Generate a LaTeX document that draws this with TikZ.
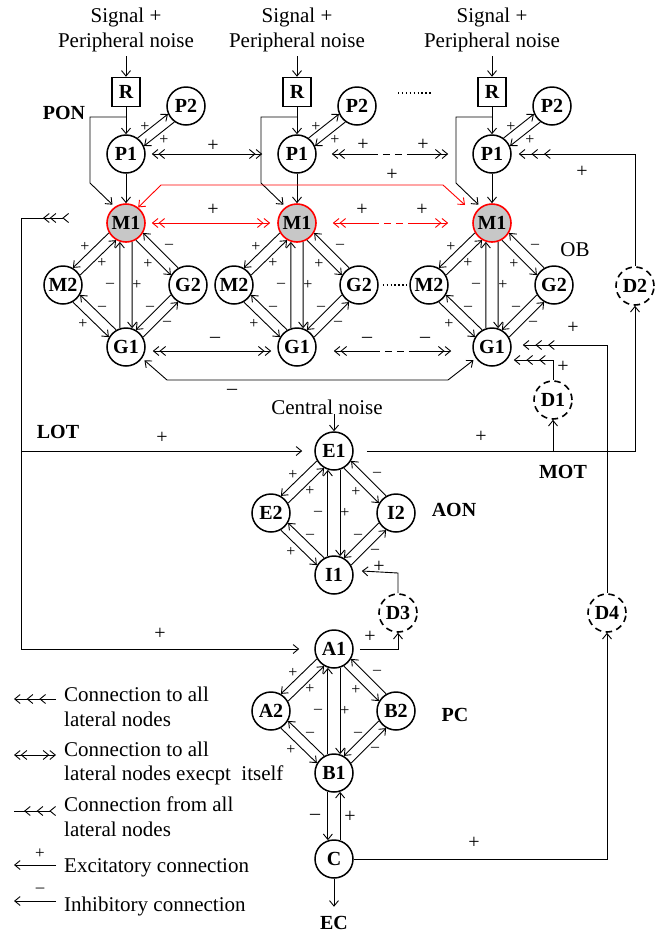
\documentclass[tikz,border=0pt]{standalone}
\usepackage{fontspec}
\setmainfont{Liberation Serif}
\usetikzlibrary{arrows.meta}
\tikzset{
 sb/.tip={Straight Barb[length=5.5pt,width=9pt]},
 con/.style={line width=0.9pt,-{sb[]}},
 conb/.style={line width=0.9pt,{sb[]}-{sb[]}},
 con2/.style={line width=0.9pt,{sb[]sb[]}-{sb[]sb[]}},
 con3/.style={line width=0.9pt,-{sb[sep=6pt]sb[sep=6pt]sb[]}},
 rev3/.style={line width=0.9pt,-{sb[reversed,sep=6pt]sb[reversed,sep=6pt]sb[reversed]}},
 revfrom/.style={line width=0.9pt,{sb[reversed,sep=6pt]sb[reversed,sep=6pt]sb[reversed]}-{sb[]}},
 dashmid/.style={dash pattern=on 45pt off 5pt on 7pt off 5pt on 7pt off 5pt on 200pt},
 dotl/.style={line width=1.3pt,dash pattern=on 1.3pt off 2.6pt},
 nd/.style={circle,draw,line width=1.5pt,minimum size=38pt,inner sep=0pt,font=\fontsize{20}{24}\selectfont\bfseries},
 m1/.style={fill=black!22,draw=red,line width=1.6pt},
 dnode/.style={nd,line width=1.6pt,dash pattern=on 6.5pt off 4.5pt},
 rb/.style={rectangle,draw,line width=1.5pt,minimum width=28pt,minimum height=29pt,inner sep=0pt,font=\fontsize{20}{24}\selectfont\bfseries},
 txt/.style={inner sep=0pt,align=center,font=\fontsize{21}{25}\selectfont},
 lt/.style={inner sep=0pt,font=\fontsize{21}{25}\selectfont},
 bl/.style={inner sep=0pt,font=\fontsize{20}{24}\selectfont\bfseries},
 sl/.style={inner sep=0pt,font=\fontsize{16}{16}\selectfont},
 lp/.style={inner sep=0pt,font=\fontsize{20}{20}\selectfont},
 ll/.style={inner sep=0pt,font=\fontsize{17}{17}\selectfont},
}
\newcommand{\dnet}[8]{%
 \node[nd,#8] (#1t) at (#2,#3) {#4};
 \node[nd] (#1l) at ({#2-63},{#3+62}) {#5};
 \node[nd] (#1r) at ({#2+62},{#3+62}) {#6};
 \node[nd] (#1b) at (#2,{#3+124}) {#7};
 \draw[con] (#1t.210) -- (#1l.60);
 \draw[con] (#1l.30) -- (#1t.240);
 \draw[con] (#1r.120) -- (#1t.330);
 \draw[con] (#1t.300) -- (#1r.150);
 \draw[con] (#1b.108) -- (#1t.252);
 \draw[con] (#1t.288) -- (#1b.72);
 \draw[con] (#1l.300) -- (#1b.150);
 \draw[con] (#1b.120) -- (#1l.330);
 \draw[con] (#1b.30) -- (#1r.240);
 \draw[con] (#1r.210) -- (#1b.60);
 \node[sl] at ({#2-41},{#3+24}) {+};
 \node[sl] at ({#2-24},{#3+40}) {+};
 \node[sl] at ({#2+43},{#3+23}) {–};
 \node[sl] at ({#2+22},{#3+41}) {+};
 \node[sl] at ({#2-16},{#3+62}) {–};
 \node[sl] at ({#2+11},{#3+62}) {+};
 \node[sl] at ({#2-43},{#3+101}) {+};
 \node[sl] at ({#2-24},{#3+85}) {–};
 \node[sl] at ({#2+41},{#3+100}) {–};
 \node[sl] at ({#2+24},{#3+85}) {–};
}
\newcommand{\pcol}[2]{%
 \node[txt,anchor=north] (S#1) at (#2,8) {Signal +\\Peripheral noise};
 \node[rb] (R#1) at (#2,92) {R};
 \node[nd] (P#1) at (#2,154) {P1};
 \node[nd] (Q#1) at ({#2+60},106) {P2};
 \draw[con] ([yshift=-4pt]S#1.south) -- (R#1);
 \draw[con] (R#1) -- (P#1);
 \draw[con] (P#1.54) -- (Q#1.204);
 \draw[con] (Q#1.234) -- (P#1.24);
 \node[sl] at ({#2+19},127) {+};
 \node[sl] at ({#2+38},140) {+};
 \dnet{M#1}{#2}{223}{M1}{M2}{G2}{G1}{m1}
 \draw[con,shorten >=3pt] (#2,117) -- ({#2-36},117) -- ({#2-36},183) -- (M#1t.125);
 \draw[con] (P#1) -- (M#1t);
}
\begin{document}
\begin{tikzpicture}[x=1pt,y=-1pt]
\useasboundingbox (0,0) rectangle (665,935);
\pcol{a}{126}
\pcol{b}{297}
\pcol{c}{492}
% lateral P1
\draw[con2,shorten <=6pt,shorten >=15pt] (Pa) -- (Pb);
\draw[con2,dashmid,shorten <=15pt,shorten >=24pt] (Pb) -- (Pc);
\node[lp] at (213,146) {+};
\node[lp] at (363,145) {+};
\node[lp] at (423,145) {+};
% lateral M1 (red)
\draw[con2,red,shorten <=6pt,shorten >=7pt] (Mat) -- (Mbt);
\draw[con2,red,dashmid,shorten <=16pt,shorten >=24pt] (Mbt) -- (Mct);
\node[lp] at (213,210) {+};
\node[lp] at (362,210) {+};
\node[lp] at (422,210) {+};
\coordinate (rE) at (465,205);
\draw[conb,red] (Mat.52) -- (161,185) -- (443,185) -- (rE);
\node[lp] at (392,175) {+};
% lateral G1
\draw[con2,shorten <=7pt,shorten >=6pt] ([yshift=-4pt]Mab.east) -- ([yshift=-4pt]Mbb.west);
\draw[con2,dashmid,shorten <=17pt,shorten >=21pt] ([yshift=-4pt]Mbb.east) -- ([yshift=-4pt]Mcb.west);
\node[lp] at (215,340) {–};
\node[lp] at (367,340) {–};
\node[lp] at (425,340) {–};
\draw[conb,shorten <=3pt,shorten >=3pt] (Mcb.215) -- (448,380) -- (167,380) -- (Mab.-35);
\node[lp] at (232,392) {–};
% dotted gaps
\draw[dotl] ([xshift=4pt]Mbr.east) -- ([xshift=-3pt]Mcl.west);
\draw[dotl] (398,93) -- (432,93);
% labels top
\node[bl] at (64,113) {PON};
\node[txt] at (575,250) {OB};
% D nodes
\node[dnode] (D2) at (635,286) {D2};
\node[dnode] (D1) at (553,400) {D1};
\node[dnode] (D3) at (398,613) {D3};
\node[dnode] (D4) at (607,613) {D4};
\draw[con3] (D2.north) -- (635,154) -- ([xshift=7pt]Pc.east);
\node[lp] at (582,172) {+};
\draw[con3] (D4.north) -- (607,345) -- ([xshift=11pt,yshift=2pt]Mcb.east);
\node[lp] at (573,328) {+};
\draw[con3] (D1.north) -- (553,360) -- ([xshift=2pt,yshift=-13pt]Mcb.east);
\node[lp] at (563,367) {+};
% AON
\node[txt] (CN) at (327,407) {Central noise};
\dnet{E}{334}{451}{E1}{E2}{I2}{I1}{}
\draw[con] ([yshift=17pt]Et.north) -- (Et.north);
\node[bl] at (454,510) {AON};
\node[bl] at (58,432) {LOT};
\node[bl] at (563,472) {MOT};
\draw[con] ([xshift=13pt]Et.east) -- (635,451) -- (D2.south);
\draw[con] (553,451) -- (D1.south);
\node[lp] at (481,437) {+};
% PC
\dnet{A}{334}{649}{A1}{A2}{B2}{B1}{}
\node[bl] at (455,715) {PC};
\draw[revfrom] (75,218) -- (21,218) -- (21,649) -- ([xshift=-15pt]At.west);
\draw[con] (21,451) -- ([xshift=-12pt]Et.west);
\node[lp] at (162,438) {+};
\node[lp] at (160,634) {+};
\draw[con] (D3.north) -- (398,573) -- ([xshift=8pt,yshift=4pt]Eb.east);
\node[lp] at (379,567) {+};
\draw[con] ([xshift=6pt]At.east) -- (398,649) -- (D3.south);
\node[lp] at (370,637) {+};
\node[nd] (C) at (334,859) {C};
\draw[con] (Ab.252) -- (C.108);
\draw[con] (C.72) -- (Ab.288);
\node[lp] at (315,817) {–};
\node[lp] at (350,817) {+};
\draw[con] (C) -- ([yshift=-28pt]C.south);
\node[bl] (EC) at (334,923) {EC};
\draw[con] (C.east) -- (607,859) -- (D4.south);
\node[lp] at (474,843) {+};
% legend
\draw[con3] (56,699) -- (14,699);
\draw[con2] (14,755) -- (56,755);
\draw[rev3] (14,811) -- (56,811);
\draw[con] (56,865) -- (14,865);
\node[ll] at (40,854) {+};
\draw[con] (56,901) -- (14,901);
\node[ll] at (40,890) {–};
\node[lt,anchor=base west] at (64,701) {Connection to all};
\node[lt,anchor=base west] at (64,726) {lateral nodes};
\node[lt,anchor=base west] at (64,756) {Connection to all};
\node[lt,anchor=base west] at (64,780) {lateral nodes execpt\ \ itself};
\node[lt,anchor=base west] at (64,811) {Connection from all};
\node[lt,anchor=base west] at (64,836) {lateral nodes};
\node[lt,anchor=base west] at (64,872) {Excitatory connection};
\node[lt,anchor=base west] at (64,911) {Inhibitory connection};
\end{tikzpicture}
\end{document}
